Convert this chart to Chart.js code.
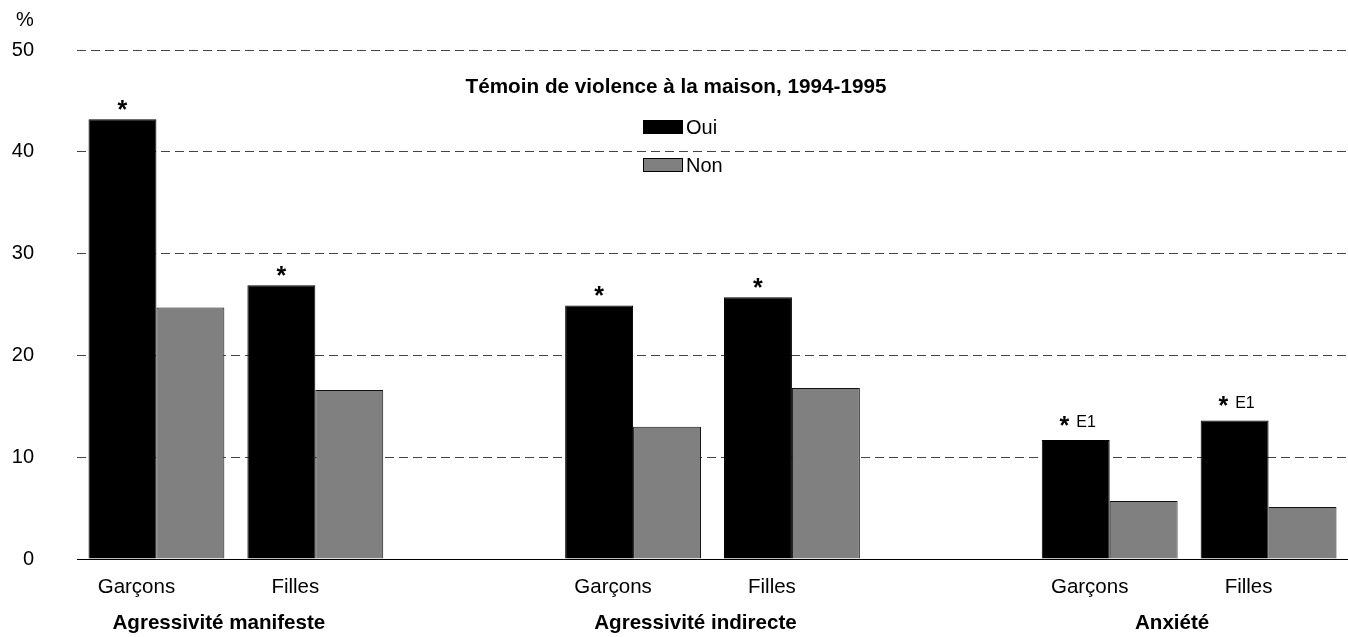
<!DOCTYPE html>
<html>
<head>
<meta charset="utf-8">
<script src="https://cdn.jsdelivr.net/npm/chart.js@4/dist/chart.umd.min.js"></script>
<style>
  body { margin: 0; background: #fff; }
  #wrap { width: 1348px; height: 637px; position: relative; }
</style>
</head>
<body>
<div id="wrap"><canvas id="chart"></canvas></div>
<script>
// categories along the x axis ('' = empty slot between groups)
const categories = ["Garçons", "Filles", "", "Garçons", "Filles", "", "Garçons", "Filles"];
const groupLabels = ["Agressivité manifeste", "Agressivité indirecte", "Anxiété"];

// Témoin de violence à la maison: Oui / Non (%)
const ouiValues = [43.2, 26.9, null, 24.9, 25.7, null, 11.7, 13.6];
const nonValues = [24.7, 16.6, null, 13.0, 16.8, null, 5.7, 5.1];
const ouiNotes = ["*", "*", "", "*", "*", "", "* E1", "* E1"];

const yTicks = [0, 10, 20, 30, 40, 50];

const FONT = "'Liberation Sans', Arial, sans-serif";
const titleText = "Témoin de violence à la maison, 1994-1995";

const extras = {
  id: "extras",
  afterDatasetsDraw(chart) {
    const ctx = chart.ctx;
    const meta = chart.getDatasetMeta(0);
    ctx.save();
    ctx.fillStyle = "#000";
    ctx.textBaseline = "middle";
    meta.data.forEach((bar, i) => {
      const note = ouiNotes[i];
      if (!note || ouiValues[i] == null) return;
      if (note === "*") {
        ctx.font = "bold 25px " + FONT;
        ctx.textAlign = "center";
        ctx.fillText("*", bar.x, bar.y - 8);
      } else {
        ctx.font = "bold 25px " + FONT;
        const w1 = ctx.measureText("* ").width;
        ctx.font = "16px " + FONT;
        const w2 = ctx.measureText("E1").width;
        const x0 = bar.x + 2 - (w1 + w2) / 2;
        ctx.textAlign = "left";
        ctx.font = "bold 25px " + FONT;
        ctx.fillText("*", x0, bar.y - 13);
        ctx.font = "16px " + FONT;
        ctx.fillText("E1", x0 + w1, bar.y - 17);
      }
    });
    ctx.restore();
  },
  afterDraw(chart) {
    const ctx = chart.ctx;
    const x = chart.scales.x;
    ctx.save();
    ctx.fillStyle = "#000";
    ctx.textBaseline = "middle";
    ctx.textAlign = "center";
    // y unit
    ctx.font = "20px " + FONT;
    ctx.fillText("%", 25, 20);
    // title inside plot
    ctx.font = "bold 20.7px " + FONT;
    ctx.fillText(titleText, 676, 87);
    // legend
    chart.data.datasets.forEach((ds, i) => {
      const y = 120 + i * 38;
      ctx.fillStyle = ds.backgroundColor;
      ctx.fillRect(643, y, 40, 14);
      ctx.strokeStyle = "#000";
      ctx.lineWidth = 1;
      ctx.strokeRect(643.5, y + 0.5, 39, 13);
      ctx.fillStyle = "#000";
      ctx.textAlign = "left";
      ctx.font = "20px " + FONT;
      ctx.fillText(ds.label, 686, y + 8);
    });
    // group labels under the category labels
    ctx.textAlign = "center";
    ctx.font = "bold 20.6px " + FONT;
    groupLabels.forEach((g, i) => {
      const cx = (x.getPixelForValue(i * 3) + x.getPixelForValue(i * 3 + 1)) / 2 - 17;
      ctx.fillText(g, cx, 623);
    });
    ctx.restore();
  }
};

new Chart(document.getElementById("chart"), {
  type: "bar",
  data: {
    labels: categories,
    datasets: [
      { label: "Oui", data: ouiValues, backgroundColor: "#000000", borderColor: "#000000", borderWidth: 1 },
      { label: "Non", data: nonValues, backgroundColor: "#808080", borderColor: "#111111", borderWidth: 1 }
    ]
  },
  options: {
    responsive: true,
    maintainAspectRatio: false,
    animation: false,
    layout: { padding: { top: 50, left: 0, right: 0, bottom: 0 } },
    datasets: { bar: { categoryPercentage: 0.855, barPercentage: 1.0 } },
    plugins: { legend: { display: false }, tooltip: { enabled: false } },
    scales: {
      x: {
        grid: { color: "transparent", drawOnChartArea: false, drawTicks: false },
        border: { display: true, color: "#000", width: 1 },
        ticks: { color: "#000", font: { family: FONT, size: 20.5 }, labelOffset: -20, padding: 16, autoSkip: false, maxRotation: 0 },
        afterFit(scale) { scale.height = 78; }
      },
      y: {
        min: 0,
        max: 50,
        afterBuildTicks(scale) { scale.ticks = yTicks.map(v => ({ value: v })); },
        grid: { color: c => (c.tick && c.tick.value === 0 ? "transparent" : "#444"), drawTicks: false, lineWidth: 1 },
        border: { display: false, dash: [9, 5] },
        ticks: { color: "#000", font: { family: FONT, size: 20 }, padding: 43 },
        afterFit(scale) {
          scale.width = 77;
          scale.paddingTop = 0;
          scale.paddingBottom = 0;
        }
      }
    }
  },
  plugins: [extras]
});
</script>
</body>
</html>
